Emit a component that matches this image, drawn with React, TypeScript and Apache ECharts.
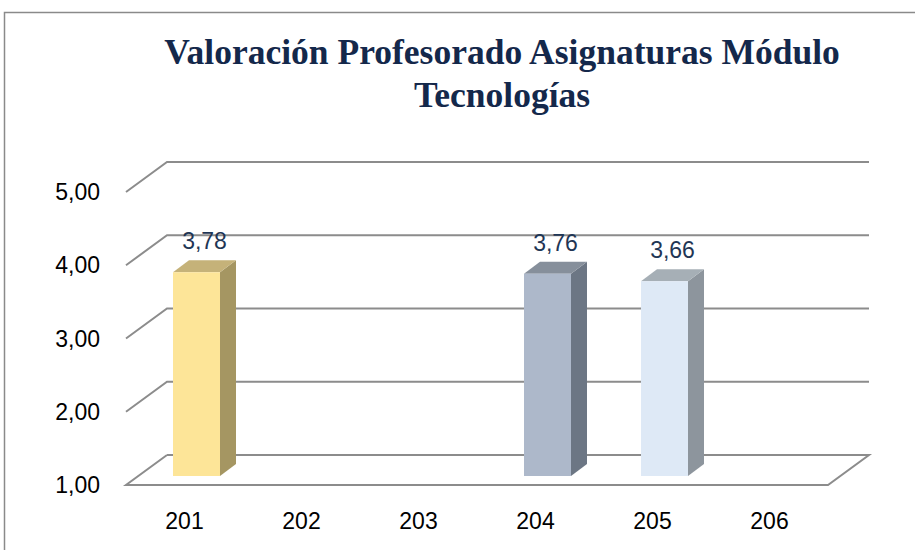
import React, { useEffect, useRef } from "react";
import * as echarts from "echarts";

const titleText = "Valoración Profesorado Asignaturas Módulo\nTecnologías";
const categories = ["201", "202", "203", "204", "205", "206"];
const values: (number | null)[] = [3.78, null, null, 3.76, 3.66, null];
const yMin = 1;
const yMax = 5;
const yInterval = 1;
const yTicks = [1, 2, 3, 4, 5];

// styles (kept separate from data)
const barStyles = [
  { front: "#FDE598", side: "#A59662", top: "#C5B279" },
  null,
  null,
  { front: "#ADB8CA", side: "#6C7684", top: "#868F9B" },
  { front: "#DEE9F6", side: "#8D959D", top: "#A6AFB6" },
  null,
];

const WALL_DX = 41;
const WALL_DY = -30;
const BAR_OFF_X = 12;
const BAR_OFF_Y = -9;
const BAR_W = 47;
const BAR_DX = 16;
const BAR_DY = -12;
const GRID_COLOR = "#8C8C8C";
const fmt = (v: number) => v.toFixed(2).replace(".", ",");

export default function App() {
  const ref = useRef<HTMLDivElement>(null);
  useEffect(() => {
    document.body.style.margin = "0";
    const chart = echarts.init(ref.current!, null, { renderer: "svg" });
    const barData = values.map((v, i) => [i, v == null ? "-" : v]);
    const option: any = {
      animation: false,
      backgroundColor: "#FFFFFF",
      title: {
        text: titleText,
        left: 497,
        top: 25,
        textAlign: "center",
        textStyle: {
          fontFamily: "Liberation Serif",
          fontWeight: "bold",
          fontSize: 35.5,
          lineHeight: 43,
          color: "#14284B",
        },
      },
      grid: { left: 126, right: 87, top: 192, bottom: 65 },
      xAxis: {
        type: "category",
        data: categories,
        axisLine: { show: false },
        axisTick: { show: false },
        splitLine: { show: false },
        axisLabel: {
          margin: 24,
          fontFamily: "Liberation Sans",
          fontSize: 23,
          color: "#000000",
        },
      },
      yAxis: {
        type: "value",
        min: yMin,
        max: yMax,
        interval: yInterval,
        axisLine: { show: false },
        axisTick: { show: false },
        splitLine: { show: false },
        axisLabel: {
          margin: 26,
          fontFamily: "Liberation Sans",
          fontSize: 23,
          color: "#000000",
          formatter: (v: number) => fmt(v),
        },
      },
      graphic: [
        {
          type: "polyline",
          shape: { points: [[4.5, 560], [4.5, 12.5], [930, 12.5]] },
          style: { stroke: "#8A8A8A", lineWidth: 1.5, fill: "none" },
          silent: true,
        },
      ],
      series: [
        {
          type: "custom",
          name: "grid3d",
          z: 1,
          clip: false,
          data: yTicks.map((t) => [0, t]),
          renderItem: (params: any, api: any) => {
            const v = api.value(1);
            const p = api.coord([0, v]);
            const cs = params.coordSys;
            const left = cs.x;
            const right = cs.x + cs.width;
            const y = p[1];
            const pts =
              v === yMin
                ? [
                    [left + WALL_DX, y + WALL_DY],
                    [left, y],
                    [right, y],
                    [right + WALL_DX, y + WALL_DY],
                    [left + WALL_DX, y + WALL_DY],
                  ]
                : [
                    [left, y],
                    [left + WALL_DX, y + WALL_DY],
                    [right + WALL_DX, y + WALL_DY],
                  ];
            return {
              type: "polyline",
              shape: { points: pts },
              style: { stroke: GRID_COLOR, lineWidth: 2, fill: null },
            };
          },
        },
        {
          type: "custom",
          name: "bars",
          z: 5,
          clip: false,
          data: barData,
          renderItem: (params: any, api: any) => {
            const idx = api.value(0);
            const v = api.value(1);
            const st = barStyles[idx];
            if (v == null || isNaN(v) || !st) return null;
            const base = api.coord([idx, yMin]);
            const top = api.coord([idx, v]);
            const x = base[0] + BAR_OFF_X - BAR_W / 2;
            const by = base[1] + BAR_OFF_Y;
            const ty = top[1] + BAR_OFF_Y;
            const x2 = x + BAR_W;
            return {
              type: "group",
              children: [
                {
                  type: "polygon",
                  shape: {
                    points: [
                      [x2, ty],
                      [x2 + BAR_DX, ty + BAR_DY],
                      [x2 + BAR_DX, by + BAR_DY],
                      [x2, by],
                    ],
                  },
                  style: { fill: st.side },
                },
                {
                  type: "polygon",
                  shape: {
                    points: [
                      [x, ty],
                      [x + BAR_DX, ty + BAR_DY],
                      [x2 + BAR_DX, ty + BAR_DY],
                      [x2, ty],
                    ],
                  },
                  style: { fill: st.top },
                },
                {
                  type: "rect",
                  shape: { x, y: ty, width: BAR_W, height: by - ty },
                  style: { fill: st.front },
                },
                {
                  type: "text",
                  x: x + (BAR_W + BAR_DX) / 2,
                  y: ty - 31,
                  style: {
                    text: fmt(v),
                    fill: "#1F3655",
                    font: "23px 'Liberation Sans'",
                    align: "center",
                    verticalAlign: "middle",
                  },
                },
              ],
            };
          },
        },
      ],
    };
    chart.setOption(option);
    return () => chart.dispose();
  }, []);
  return (
    <div
      ref={ref}
      style={{ position: "absolute", left: 0, top: 0, width: 915, height: 550 }}
    />
  );
}
